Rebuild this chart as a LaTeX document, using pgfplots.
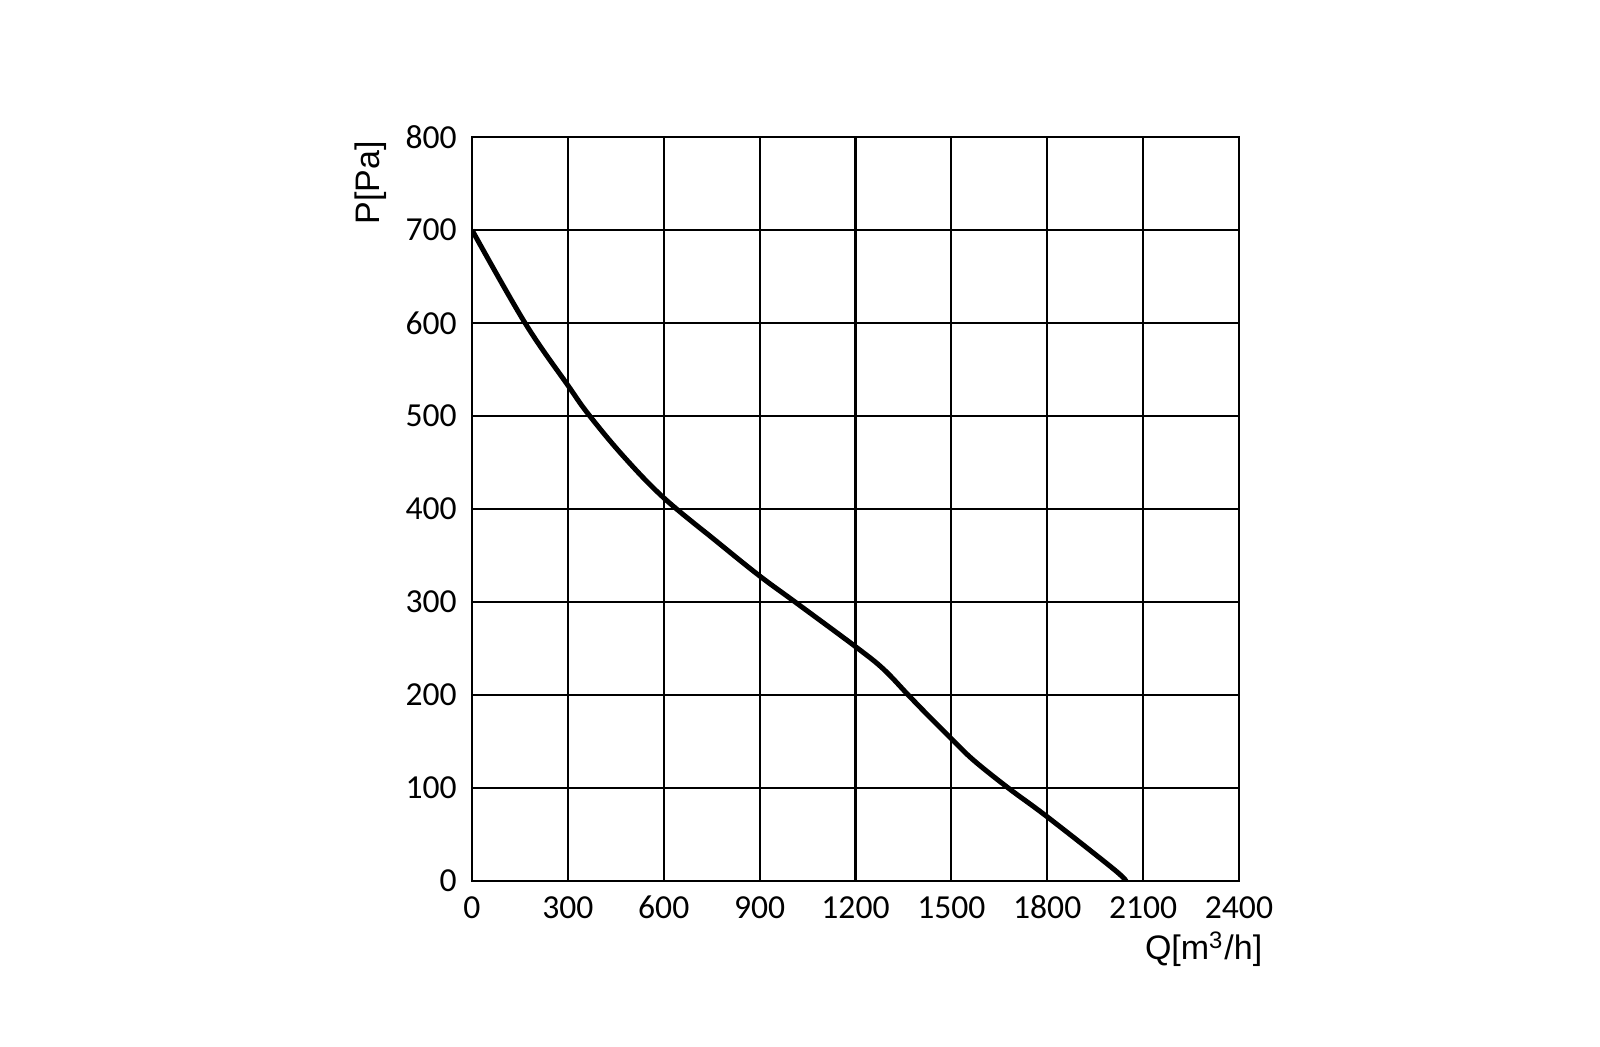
\documentclass[border=0pt]{standalone}
\usepackage{fontspec}
\setmainfont{Carlito}
\newfontfamily\arialfont{Liberation Sans}
\usepackage{pgfplots}
\pgfplotsset{compat=1.18}

% fan curve: static pressure vs. air flow
\pgfplotstableread{
Q     P
0     700
166   600
300   533
364   502
473   457
600   412
766   365
900   328
1011  300
1200  252
1287  228
1365  200
1430  177
1500  153
1569  130
1678  100
1800  69
2007  13
2046  0
}\fancurve

\begin{document}
\begin{tikzpicture}
\begin{axis}[
  at={(0,0)}, anchor=south west,
  scale only axis,
  width=191.75pt, height=186pt,
  xmin=0, xmax=2400, ymin=0, ymax=800,
  xtick={0,300,...,2400},
  ytick={0,100,...,800},
  grid=major,
  grid style={black, line width=0.55pt},
  axis line style={line width=0.6pt},
  major tick length=0pt,
  /pgf/number format/assume math mode=true,
  /pgf/number format/1000 sep={},
  ticklabel style={font=\fontsize{8.4}{9}\selectfont},
  xticklabel style={text height=1.3ex, text depth=0pt, yshift=0.4pt},
  yticklabel style={xshift=-0.3pt},
  xlabel={\arialfont Q[m\textsuperscript{3}/h]},
  ylabel={\arialfont P[Pa]},
  label style={font=\fontsize{8.5}{10}\selectfont, inner sep=0pt},
  xlabel style={at={(axis description cs:1.0314,-0.106)}, anchor=base east},
  ylabel style={at={(axis description cs:-0.12,0.995)}, anchor=base east},
]
  \addplot[black, line width=1.25pt, smooth, tension=0.6] table[x=Q, y=P] {\fancurve};
\end{axis}
\pgfresetboundingbox
\path[use as bounding box] (-118pt,-41.5pt) rectangle (282pt,220.25pt);
\end{tikzpicture}
\end{document}
